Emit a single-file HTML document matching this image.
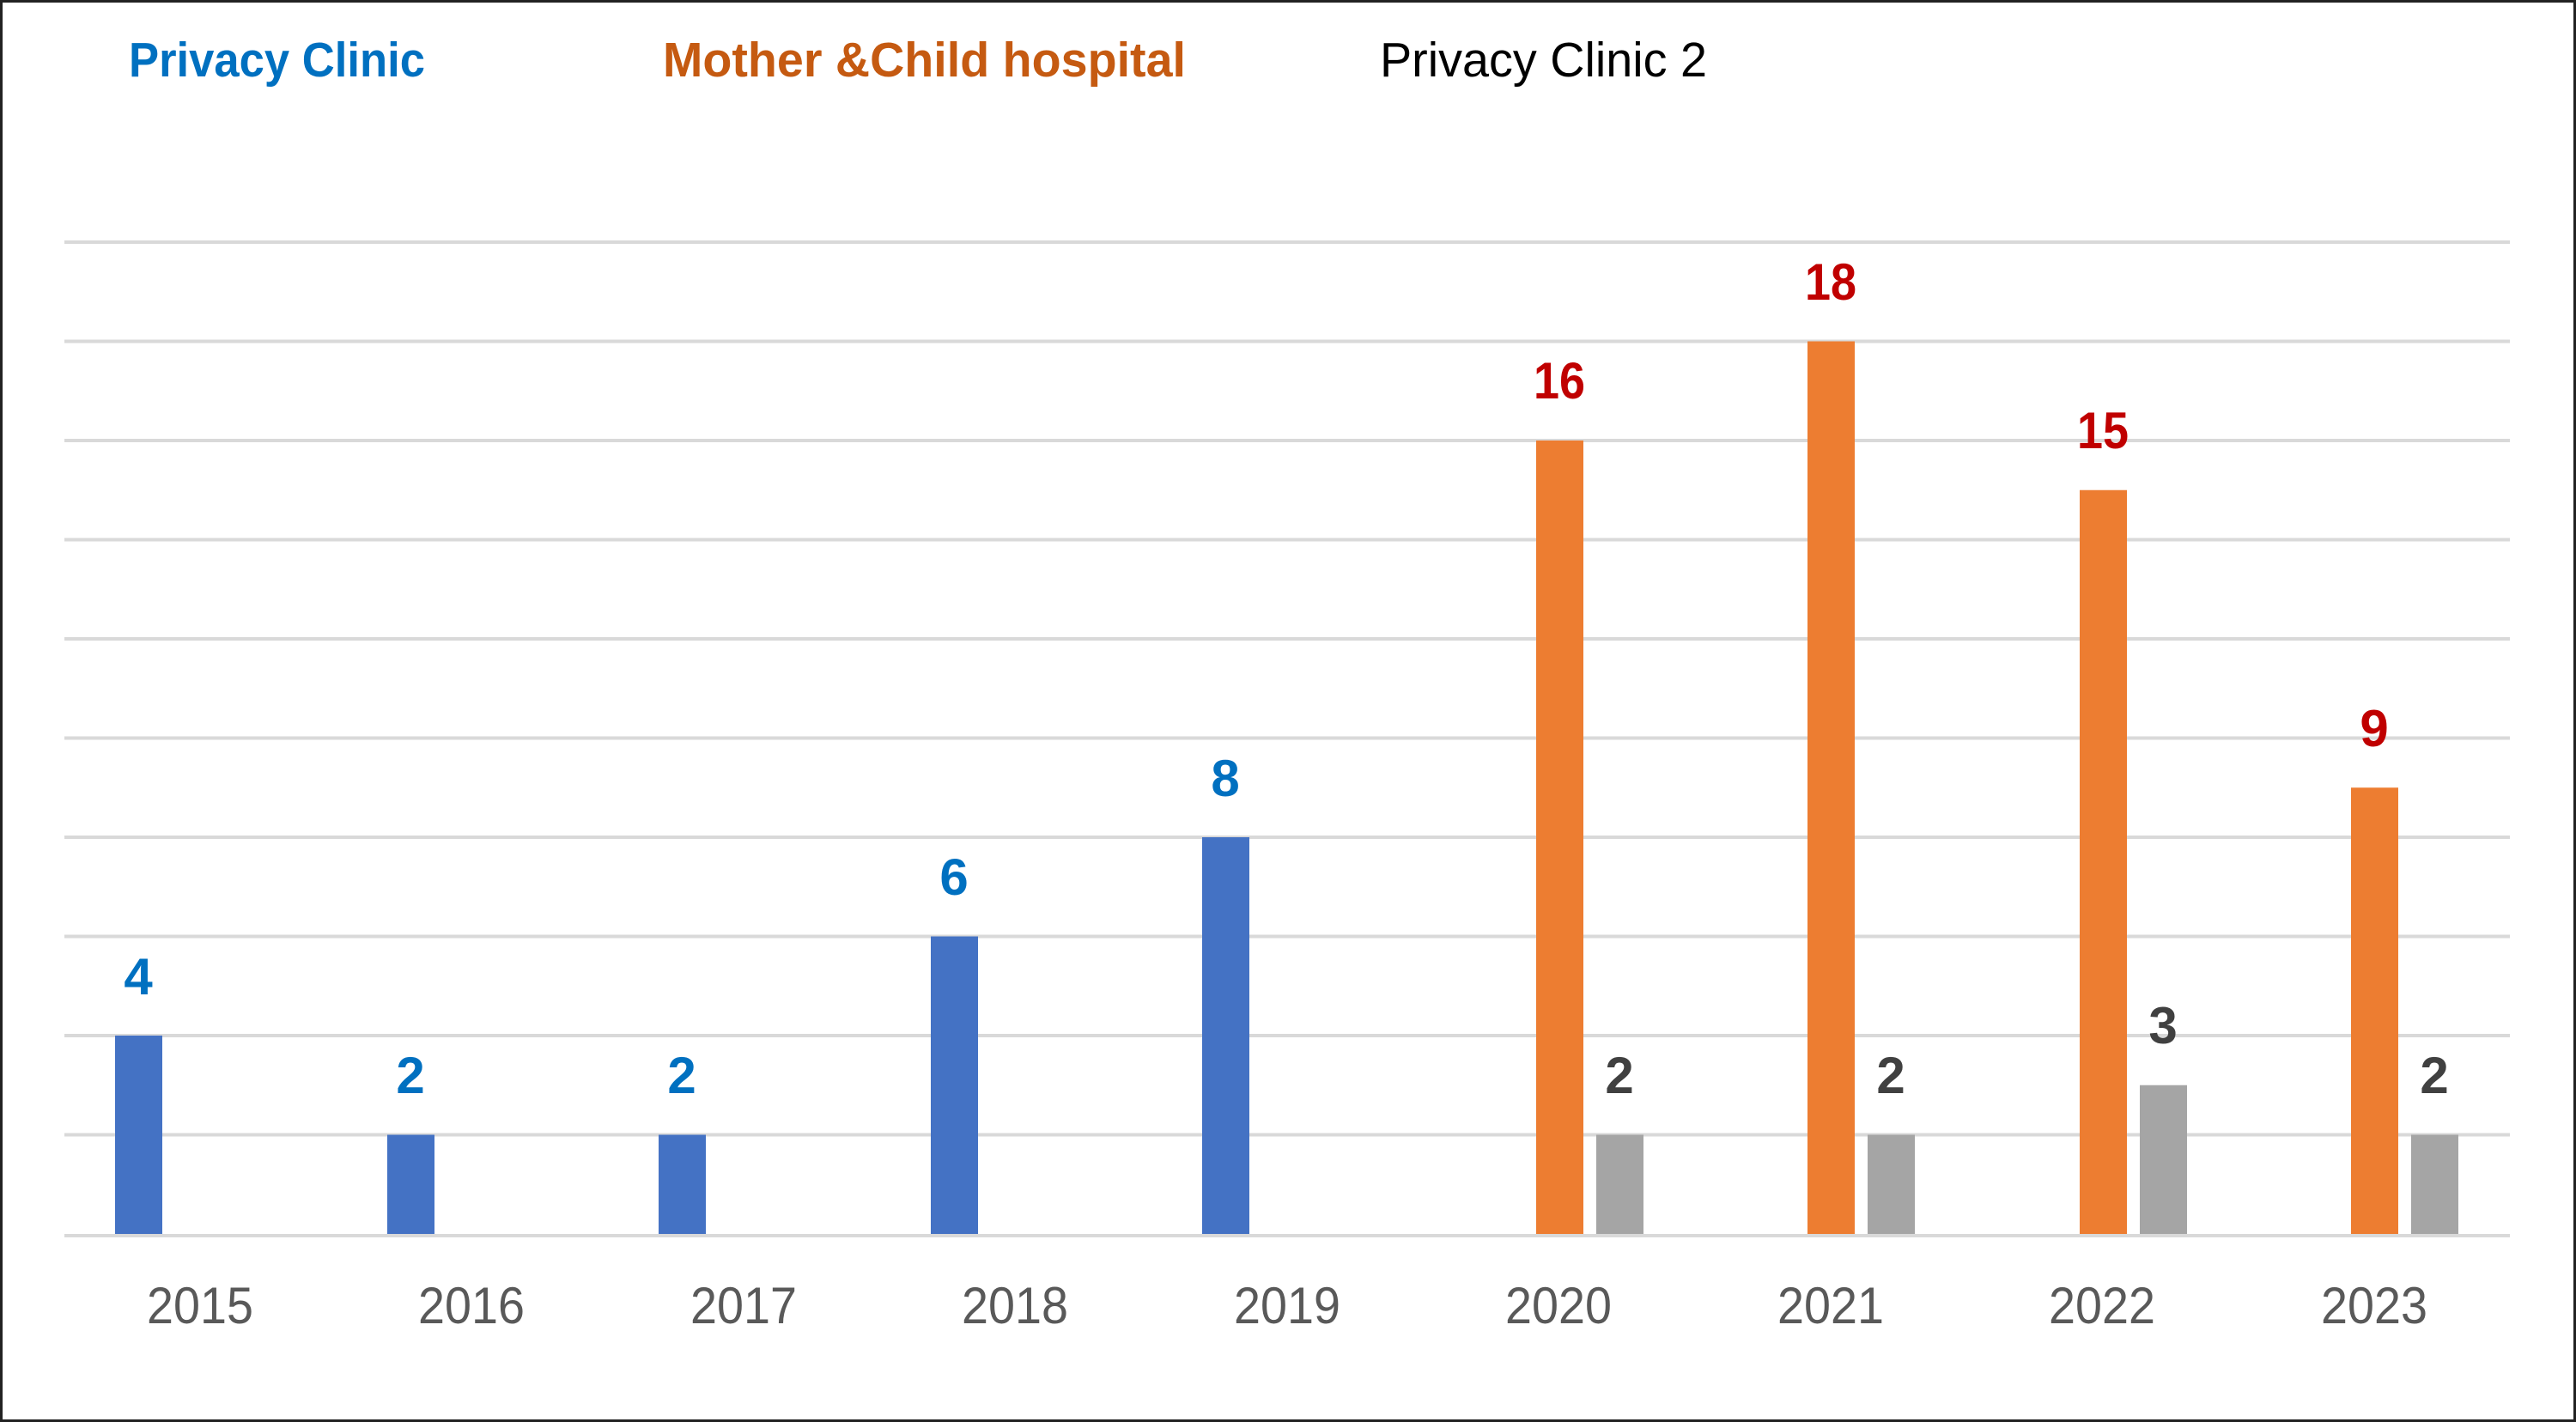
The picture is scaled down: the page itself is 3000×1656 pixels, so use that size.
<!DOCTYPE html>
<html><head><meta charset="utf-8"><style>
html,body{margin:0;padding:0;background:#fff;}
svg{display:block;}
text{font-family:"Liberation Sans",sans-serif;}
</style></head><body>
<svg width="3000" height="1656" viewBox="0 0 3000 1656" xmlns="http://www.w3.org/2000/svg">
<rect x="0" y="0" width="3000" height="1656" fill="#fff"/>
<rect x="1.5" y="1.5" width="2997" height="1653" fill="none" stroke="#222" stroke-width="3"/>
<g stroke="#d9d9d9" stroke-width="4">
<line x1="75" x2="2923" y1="282" y2="282"/>
<line x1="75" x2="2923" y1="397.5" y2="397.5"/>
<line x1="75" x2="2923" y1="513" y2="513"/>
<line x1="75" x2="2923" y1="628.5" y2="628.5"/>
<line x1="75" x2="2923" y1="744" y2="744"/>
<line x1="75" x2="2923" y1="859.5" y2="859.5"/>
<line x1="75" x2="2923" y1="975" y2="975"/>
<line x1="75" x2="2923" y1="1090.5" y2="1090.5"/>
<line x1="75" x2="2923" y1="1206" y2="1206"/>
<line x1="75" x2="2923" y1="1321.5" y2="1321.5"/>
<line x1="75" x2="2923" y1="1439" y2="1439"/>
</g>
<g fill="#4472c4">
<rect x="134" y="1206" width="55" height="231"/>
<rect x="451" y="1321.5" width="55" height="115.5"/>
<rect x="767" y="1321.5" width="55" height="115.5"/>
<rect x="1084" y="1090.5" width="55" height="346.5"/>
<rect x="1400" y="975" width="55" height="462"/>
</g>
<g fill="#ed7d31">
<rect x="1789" y="513" width="55" height="924"/>
<rect x="2105" y="397.5" width="55" height="1039.5"/>
<rect x="2422" y="570.75" width="55" height="866.25"/>
<rect x="2738" y="917.25" width="55" height="519.75"/>
</g>
<g fill="#a5a5a5">
<rect x="1859" y="1321.5" width="55" height="115.5"/>
<rect x="2175" y="1321.5" width="55" height="115.5"/>
<rect x="2492" y="1263.75" width="55" height="173.25"/>
<rect x="2808" y="1321.5" width="55" height="115.5"/>
</g>
<g font-size="60" font-weight="bold" text-anchor="middle">
<g fill="#0070c0">
<text x="161" y="1158">4</text>
<text x="478" y="1273">2</text>
<text x="794" y="1273">2</text>
<text x="1111" y="1042">6</text>
<text x="1427" y="927">8</text>
</g>
<g fill="#c00000">
<text x="1816" y="464" textLength="60" lengthAdjust="spacingAndGlyphs">16</text>
<text x="2132" y="349" textLength="60" lengthAdjust="spacingAndGlyphs">18</text>
<text x="2449" y="522" textLength="60" lengthAdjust="spacingAndGlyphs">15</text>
<text x="2765" y="869">9</text>
</g>
<g fill="#404040">
<text x="1886" y="1273">2</text>
<text x="2202" y="1273">2</text>
<text x="2519" y="1215">3</text>
<text x="2835" y="1273">2</text>
</g>
</g>
<g font-size="60" fill="#595959" text-anchor="middle">
<text x="233" y="1541" textLength="124" lengthAdjust="spacingAndGlyphs">2015</text>
<text x="549" y="1541" textLength="124" lengthAdjust="spacingAndGlyphs">2016</text>
<text x="866" y="1541" textLength="124" lengthAdjust="spacingAndGlyphs">2017</text>
<text x="1182" y="1541" textLength="124" lengthAdjust="spacingAndGlyphs">2018</text>
<text x="1499" y="1541" textLength="124" lengthAdjust="spacingAndGlyphs">2019</text>
<text x="1815" y="1541" textLength="124" lengthAdjust="spacingAndGlyphs">2020</text>
<text x="2132" y="1541" textLength="124" lengthAdjust="spacingAndGlyphs">2021</text>
<text x="2448" y="1541" textLength="124" lengthAdjust="spacingAndGlyphs">2022</text>
<text x="2765" y="1541" textLength="124" lengthAdjust="spacingAndGlyphs">2023</text>
</g>
<text x="150" y="89" font-size="57" font-weight="bold" fill="#0070c0" textLength="345" lengthAdjust="spacingAndGlyphs">Privacy Clinic</text>
<text x="772" y="89" font-size="57" font-weight="bold" fill="#c55a11" textLength="609" lengthAdjust="spacingAndGlyphs">Mother &amp;Child hospital</text>
<text x="1607" y="89" font-size="57" fill="#000" textLength="381" lengthAdjust="spacingAndGlyphs">Privacy Clinic 2</text>
</svg>
</body></html>
